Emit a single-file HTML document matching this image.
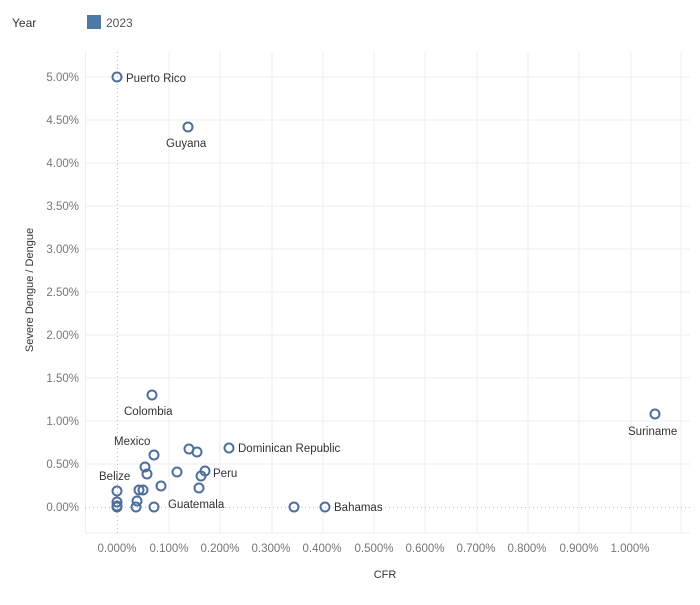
<!DOCTYPE html>
<html><head><style>body{margin:0;background:#fff}</style></head><body>
<svg width="700" height="600" xmlns="http://www.w3.org/2000/svg" font-family="Liberation Sans, sans-serif">
<text x="12" y="27" font-size="12" fill="#333">Year</text>
<rect x="87" y="15" width="14" height="14" fill="#4e79a7"/>
<text x="106" y="27" font-size="12" fill="#555">2023</text>
<g stroke="#eeeeee" stroke-width="1">
<line x1="85.5" y1="52" x2="85.5" y2="533"/>
<line x1="169" y1="52" x2="169" y2="533"/><line x1="220" y1="52" x2="220" y2="533"/><line x1="272" y1="52" x2="272" y2="533"/><line x1="323" y1="52" x2="323" y2="533"/><line x1="374" y1="52" x2="374" y2="533"/><line x1="425" y1="52" x2="425" y2="533"/><line x1="477" y1="52" x2="477" y2="533"/><line x1="528" y1="52" x2="528" y2="533"/><line x1="579" y1="52" x2="579" y2="533"/><line x1="631" y1="52" x2="631" y2="533"/><line x1="681" y1="52" x2="681" y2="533"/>
<line x1="85" y1="77" x2="690" y2="77"/><line x1="85" y1="120" x2="690" y2="120"/><line x1="85" y1="163" x2="690" y2="163"/><line x1="85" y1="206" x2="690" y2="206"/><line x1="85" y1="249" x2="690" y2="249"/><line x1="85" y1="292" x2="690" y2="292"/><line x1="85" y1="335" x2="690" y2="335"/><line x1="85" y1="378" x2="690" y2="378"/><line x1="85" y1="421" x2="690" y2="421"/><line x1="85" y1="464" x2="690" y2="464"/>
<line x1="85" y1="533" x2="690" y2="533"/>
</g>
<g stroke="#bbb" stroke-width="1" stroke-dasharray="1,3">
<line x1="117.5" y1="52" x2="117.5" y2="533"/><line x1="85" y1="507.5" x2="690" y2="507.5"/>
</g>
<g font-size="11.5" fill="#777" text-anchor="end">
<text x="79" y="81">5.00%</text><text x="79" y="124">4.50%</text><text x="79" y="167">4.00%</text><text x="79" y="210">3.50%</text><text x="79" y="253">3.00%</text><text x="79" y="296">2.50%</text><text x="79" y="339">2.00%</text><text x="79" y="382">1.50%</text><text x="79" y="425">1.00%</text><text x="79" y="468">0.50%</text><text x="79" y="511">0.00%</text>
</g>
<g font-size="11.5" fill="#777" text-anchor="middle">
<text x="117" y="552">0.000%</text><text x="169" y="552">0.100%</text><text x="220" y="552">0.200%</text><text x="271" y="552">0.300%</text><text x="322" y="552">0.400%</text><text x="374" y="552">0.500%</text><text x="425" y="552">0.600%</text><text x="476" y="552">0.700%</text><text x="527" y="552">0.800%</text><text x="579" y="552">0.900%</text><text x="630" y="552">1.000%</text>
</g>
<text x="385" y="578" font-size="11" fill="#333" text-anchor="middle">CFR</text>
<text transform="translate(33,290) rotate(-90)" font-size="11" fill="#333" text-anchor="middle">Severe Dengue / Dengue</text>
<g fill="none" stroke="#4e6f9d" stroke-width="2">
<circle cx="117" cy="77" r="4.5"/><circle cx="188" cy="127" r="4.5"/><circle cx="152" cy="395" r="4.5"/><circle cx="655" cy="414" r="4.5"/>
<circle cx="154" cy="455" r="4.5"/><circle cx="189" cy="449" r="4.5"/><circle cx="197" cy="452" r="4.5"/><circle cx="229" cy="448" r="4.5"/>
<circle cx="145" cy="467" r="4.5"/><circle cx="147" cy="474" r="4.5"/><circle cx="177" cy="472" r="4.5"/><circle cx="205" cy="471" r="4.5"/><circle cx="201" cy="476" r="4.5"/>
<circle cx="161" cy="486" r="4.5"/><circle cx="139" cy="490" r="4.5"/><circle cx="143" cy="490" r="4.5"/><circle cx="199" cy="488" r="4.5"/><circle cx="117" cy="491" r="4.5"/>
<circle cx="117" cy="502" r="4.5"/><circle cx="137" cy="501" r="4.5"/><circle cx="117" cy="506" r="4.5"/><circle cx="117" cy="507" r="4.5"/><circle cx="136" cy="507" r="4.5"/><circle cx="154" cy="507" r="4.5"/><circle cx="294" cy="507" r="4.5"/><circle cx="325" cy="507" r="4.5"/>
</g>
<g font-size="11.5" fill="#333">
<text x="126" y="82">Puerto Rico</text><text x="166" y="147">Guyana</text><text x="124" y="415">Colombia</text><text x="628" y="435">Suriname</text>
<text x="114" y="445">Mexico</text><text x="238" y="452">Dominican Republic</text><text x="99" y="480">Belize</text><text x="213" y="477">Peru</text>
<text x="168" y="508">Guatemala</text><text x="334" y="511">Bahamas</text>
</g>
</svg>
</body></html>
